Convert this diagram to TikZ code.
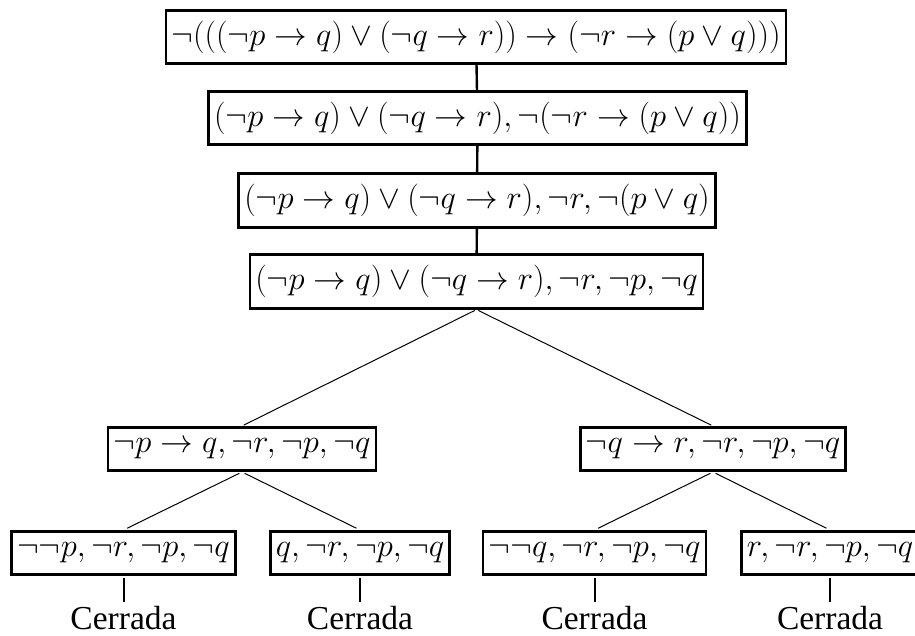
\RequirePackage{fix-cm}
\documentclass[tikz,border=0pt]{standalone}
\usepackage{fontspec}
\newfontfamily\timesfont{Liberation Serif}
\begin{document}
\begin{tikzpicture}[x=1pt,y=-1pt,
  every node/.style={font=\fontsize{32.6}{38}\selectfont},
  fbox/.style={draw, line width=2.6pt, inner xsep=5.5pt, inner ysep=10.5pt},
  lowbox/.style={fbox, inner ysep=11.5pt},
  closed/.style={font=\timesfont\fontsize{33.5}{40}\selectfont, inner sep=0pt, anchor=base},
  thickline/.style={line width=2.4pt},
  thinline/.style={line width=1pt},
  endline/.style={line width=2pt}]
\useasboundingbox (0,0) rectangle (915,635);
\node[fbox] (b1) at (476,37) {$\neg(((\neg p\rightarrow q)\vee(\neg q\rightarrow r))\rightarrow(\neg r\rightarrow(p\vee q)))$};
\node[fbox] (b2) at (477.5,118) {$(\neg p\rightarrow q)\vee(\neg q\rightarrow r),\neg(\neg r\rightarrow(p\vee q))$};
\node[fbox] (b3) at (477,200.5) {$(\neg p\rightarrow q)\vee(\neg q\rightarrow r),\neg r,\neg(p\vee q)$};
\node[fbox] (b4) at (476.5,281.5) {$(\neg p\rightarrow q)\vee(\neg q\rightarrow r),\neg r,\neg p,\neg q$};
\node[lowbox] (l) at (242,449) {$\neg p\rightarrow q,\neg r,\neg p,\neg q$};
\node[lowbox] (r) at (713,449) {$\neg q\rightarrow r,\neg r,\neg p,\neg q$};
\node[lowbox] (ll) at (123.5,553) {$\neg\neg p,\neg r,\neg p,\neg q$};
\node[lowbox] (lr) at (360,553) {$q,\neg r,\neg p,\neg q$};
\node[lowbox] (rl) at (594.5,553) {$\neg\neg q,\neg r,\neg p,\neg q$};
\node[lowbox] (rr) at (830,553) {$r,\neg r,\neg p,\neg q$};
\node[closed] (c1) at (123.5,629) {Cerrada};
\node[closed] (c2) at (360,629) {Cerrada};
\node[closed] (c3) at (594.5,629) {Cerrada};
\node[closed] (c4) at (830,629) {Cerrada};
\draw[thickline] (b1) -- (b2);
\draw[thickline] (b2) -- (b3);
\draw[thickline] (b3) -- (b4);
\draw[thinline, shorten <=2pt, shorten >=2pt] (b4.south) -- (l.north);
\draw[thinline, shorten <=2pt, shorten >=2pt] (b4.south) -- (r.north);
\draw[thinline, shorten <=3pt, shorten >=4pt] (l.south) -- (ll.north);
\draw[thinline, shorten <=3pt, shorten >=4pt] (l.south) -- (lr.north);
\draw[thinline, shorten <=3pt, shorten >=4pt] (r.south) -- (rl.north);
\draw[thinline, shorten <=3pt, shorten >=4pt] (r.south) -- (rr.north);
\draw[endline, shorten <=2pt, shorten >=4pt] (ll.south) -- (c1.north);
\draw[endline, shorten <=2pt, shorten >=4pt] (lr.south) -- (c2.north);
\draw[endline, shorten <=2pt, shorten >=4pt] (rl.south) -- (c3.north);
\draw[endline, shorten <=2pt, shorten >=4pt] (rr.south) -- (c4.north);
\end{tikzpicture}
\end{document}
